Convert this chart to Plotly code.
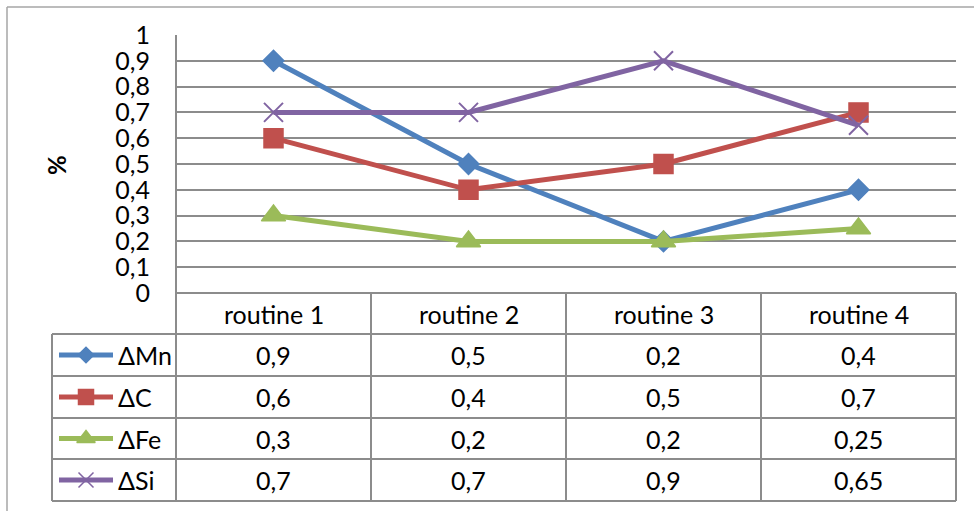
import plotly.graph_objects as go

# ---- data ----
routines = ["routine 1", "routine 2", "routine 3", "routine 4"]
series_names = ["ΔMn", "ΔC", "ΔFe", "ΔSi"]
d_mn = [0.9, 0.5, 0.2, 0.4]
d_c = [0.6, 0.4, 0.5, 0.7]
d_fe = [0.3, 0.2, 0.2, 0.25]
d_si = [0.7, 0.7, 0.9, 0.65]
series_values = [d_mn, d_c, d_fe, d_si]

# ---- styling ----
colors = ["#4F81BD", "#C0504D", "#9BBB59", "#8064A2"]
symbols = ["diamond", "square", "triangle-up", "x-thin"]
sizes = [16, 19, 21, 19]
key_sizes = [12, 15, 16, 15]
grid = "#8c8c8c"
FONT = "Lato"
FS = 25
W, H = 974, 511

# page-pixel geometry of the plot area and data table
PL, PR, PT, PB = 176, 956, 35, 293
TABLE_LEFT = 52
row_edges = [293, 334, 376, 418, 459, 501]

def fx(x):
    return x / W

def fy(y):
    return 1 - y / H

def fmt(v):
    return str(v).replace(".", ",")

def marker_style(symbol, size, color, xw):
    m = dict(symbol=symbol, size=size, color=color)
    if symbol == "x-thin":
        m["line"] = dict(color=color, width=xw)
    else:
        m["line"] = dict(color=color, width=1.5)
    return m

fig = go.Figure()

# data series
for name, vals, c, s, sz in zip(series_names, series_values, colors, symbols, sizes):
    fig.add_trace(go.Scatter(
        x=routines, y=vals, name=name, mode="lines+markers",
        line=dict(color=c, width=5), marker=marker_style(s, sz, c, 2),
        xaxis="x", yaxis="y", showlegend=False, cliponaxis=False,
    ))

# overlay axis in page pixels for the table legend keys
col_w = (PR - PL) / len(routines)
shapes = []
annotations = []

for i, (name, c, s, ksz) in enumerate(zip(series_names, colors, symbols, key_sizes)):
    yc = (row_edges[i + 1] + row_edges[i + 2]) / 2
    fig.add_trace(go.Scatter(
        x=[59, 113], y=[yc, yc], mode="lines", line=dict(color=c, width=5),
        xaxis="x2", yaxis="y2", showlegend=False, hoverinfo="skip",
    ))
    fig.add_trace(go.Scatter(
        x=[86], y=[yc], mode="markers", marker=marker_style(s, ksz, c, 1.5),
        xaxis="x2", yaxis="y2", showlegend=False, hoverinfo="skip",
    ))
    annotations.append(dict(
        x=fx(116), y=fy(yc), xref="paper", yref="paper", text=name,
        showarrow=False, xanchor="left", yanchor="middle",
        font=dict(family=FONT, size=FS, color="black"),
    ))
    for j, v in enumerate(series_values[i]):
        annotations.append(dict(
            x=fx(PL + col_w * (j + 0.5)), y=fy(yc), xref="paper", yref="paper",
            text=fmt(v), showarrow=False, xanchor="center", yanchor="middle",
            font=dict(family=FONT, size=FS, color="black"),
        ))

# header row
for j, r in enumerate(routines):
    annotations.append(dict(
        x=fx(PL + col_w * (j + 0.5)), y=fy((row_edges[0] + row_edges[1]) / 2),
        xref="paper", yref="paper", text=r, showarrow=False,
        xanchor="center", yanchor="middle",
        font=dict(family=FONT, size=FS, color="black"),
    ))

def line(x0, y0, x1, y1, color=grid, width=2):
    shapes.append(dict(type="line", xref="paper", yref="paper",
                       x0=fx(x0), y0=fy(y0), x1=fx(x1), y1=fy(y1),
                       line=dict(color=color, width=width)))

# table grid
line(PL, row_edges[0], PR, row_edges[0])
for k in range(1, len(row_edges)):
    line(TABLE_LEFT, row_edges[k], PR, row_edges[k])
line(TABLE_LEFT, row_edges[1], TABLE_LEFT, row_edges[-1])
for j in range(len(routines) + 1):
    line(PL + col_w * j, row_edges[0], PL + col_w * j, row_edges[-1])
line(PL, PT, PL, PB)

# chart-area frame
line(7, 7, 7, 520, color="#a6a6a6", width=1.5)
line(7, 7, 980, 7, color="#a6a6a6", width=1.5)

# y-axis title
annotations.append(dict(
    x=fx(57), y=fy(165), xref="paper", yref="paper", text="<b>%</b>",
    showarrow=False, textangle=-90, xanchor="center", yanchor="middle",
    font=dict(family=FONT, size=24, color="black"),
))

fig.update_layout(
    width=W, height=H, margin=dict(l=0, r=0, t=0, b=0, pad=0, autoexpand=False),
    paper_bgcolor="white", plot_bgcolor="rgba(0,0,0,0)",
    separators=", ",
    shapes=shapes, annotations=annotations,
    xaxis=dict(domain=[fx(PL), fx(PR)], range=[-0.5, 3.5], type="category",
               showticklabels=False, showgrid=False, zeroline=False,
               showline=False, ticks="", automargin=False),
    yaxis=dict(domain=[fy(PB), fy(PT)], range=[0, 1], dtick=0.1, tick0=0,
               showgrid=True, gridcolor=grid, gridwidth=2, zeroline=False,
               showline=False, ticks="", ticklabelstandoff=25, automargin=False,
               tickfont=dict(family=FONT, size=FS, color="black")),
    xaxis2=dict(domain=[0, 1], range=[0, W], visible=False, anchor="y2",
                automargin=False),
    yaxis2=dict(domain=[0, 1], range=[H, 0], visible=False, anchor="x2",
                automargin=False),
)

fig.write_html("out.html")
